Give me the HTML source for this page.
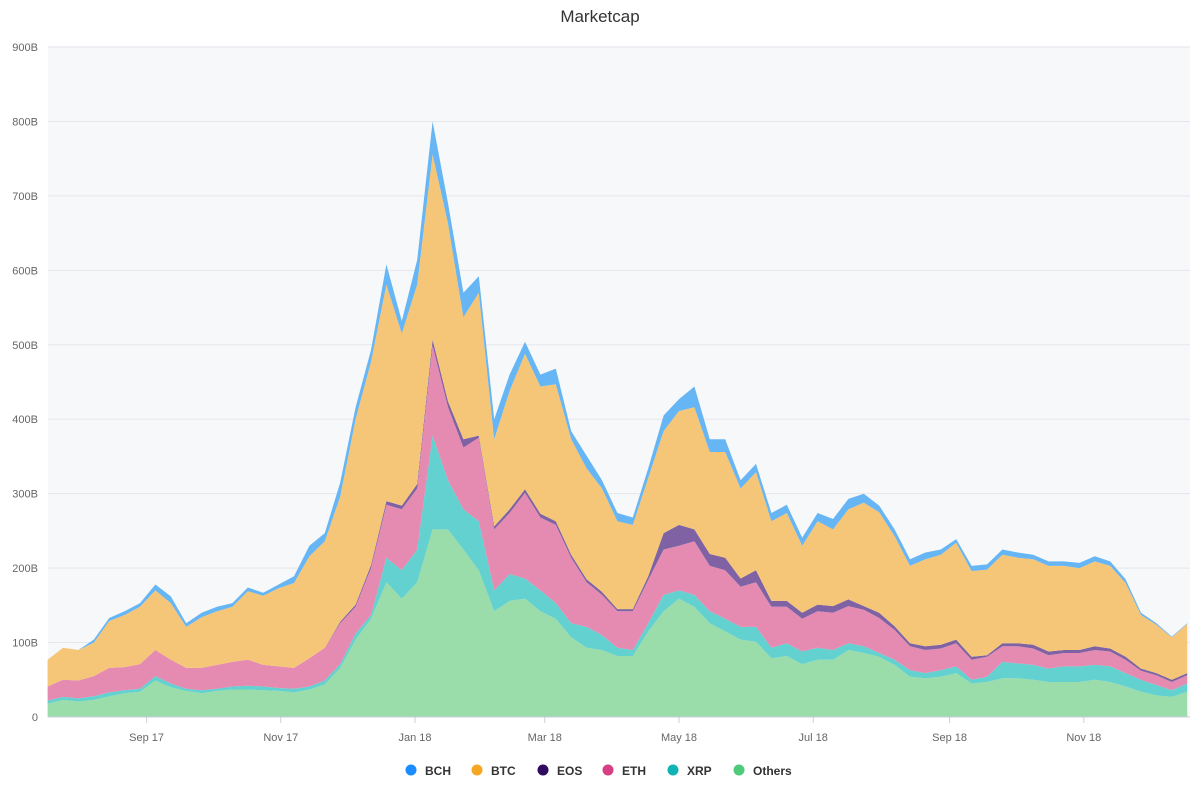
<!DOCTYPE html>
<html><head><meta charset="utf-8"><style>
body{margin:0;background:#fff;font-family:"Liberation Sans",sans-serif;}
svg{display:block}
</style></head><body>
<svg id="chart" width="1200" height="800">
<rect x="0" y="0" width="1200" height="800" fill="#fff"/>
<text x="600" y="22" text-anchor="middle" font-size="17" fill="#333">Marketcap</text>
<rect x="48" y="47" width="1142" height="670" fill="#f7f8fa"/>
<g id="grid"></g><g id="areas"></g><g id="axes"></g><g id="legend"></g>
</svg>
<script>
const others=[18,23,21,23,28,32,34,49,40,35,32,35,37,37,36,35,33,37,44,66,104,132,181,159,181,252,252,225,197,142,156,159,142,132,107,93,90,82,82,115,142,159,148,126,115,104,101,79,82,71,77,77,90,86,81,70,54,52,54,59,45,47,52,52,50,47,47,47,50,47,41,34,29,27,34];
const xrp=[4,4,4,5,5,4,4,6,5,3,4,3,4,5,5,4,5,4,5,5,8,5,33,38,44,126,66,54,66,28,36,27,28,21,19,28,20,11,8,11,22,11,16,16,17,17,20,14,17,17,16,13,9,9,5,7,9,7,9,9,5,7,22,20,20,18,21,21,20,21,18,16,14,9,11];
const eth=[19,23,24,27,33,31,33,35,32,28,30,32,33,35,29,29,28,38,44,55,36,63,71,82,82,121,98,83,112,82,82,115,98,105,88,60,54,49,52,58,61,60,72,61,65,54,60,55,49,44,49,50,50,49,47,40,32,31,29,31,27,27,21,23,22,18,18,18,20,20,18,12,13,11,11];
const eos=[0,0,0,0,0,0,0,0,0,0,0,0,0,0,0,0,0,0,0,2,3,4,5,5,6,8,8,11,3,4,5,5,5,5,4,4,4,3,3,5,22,28,16,16,17,11,16,8,8,8,9,9,9,5,7,5,4,5,5,5,4,2,4,4,5,5,4,4,5,4,4,3,3,3,3];
const btc=[36,43,41,45,63,70,77,80,76,55,68,72,74,92,93,105,114,137,143,168,249,273,291,231,268,249,239,164,192,117,159,182,171,184,155,149,139,118,113,132,137,153,164,137,142,121,132,107,118,90,112,103,121,139,135,121,104,117,121,130,115,115,119,115,115,115,113,110,114,111,99,72,65,57,66];
const bch=[0,0,0,4,4,5,5,8,9,5,6,6,5,5,4,5,9,14,11,19,16,16,27,17,33,44,27,33,22,27,22,16,16,21,11,17,11,11,10,13,21,16,28,17,17,11,11,11,11,11,11,14,14,12,9,9,9,9,7,5,7,7,7,7,6,6,6,7,7,6,5,3,2,1,1];
const yTicks=[0,100,200,300,400,500,600,700,800,900];
const xTickLabels=["Sep 17","Nov 17","Jan 18","Mar 18","May 18","Jul 18","Sep 18","Nov 18"];
const xTickDays=[-122,-61,0,59,120,181,243,304];
const startDay=-167, stepDays=7;
const series=[
 {name:"Others",vals:others,fill:"#9adcaa",key:"#4fc97a"},
 {name:"XRP",vals:xrp,fill:"#62d1cf",key:"#10b4b4"},
 {name:"ETH",vals:eth,fill:"#e58bb1",key:"#d63f83"},
 {name:"EOS",vals:eos,fill:"#7f62a3",key:"#2f0a5f"},
 {name:"BTC",vals:btc,fill:"#f5c677",key:"#f5a623"},
 {name:"BCH",vals:bch,fill:"#66b5f5",key:"#1a8cff"}];
const X=d=>415+2.2*d, Y=v=>717-v*670/900;
const NS="http://www.w3.org/2000/svg";
function mk(t,a,p){const e=document.createElementNS(NS,t);for(const k in a)e.setAttribute(k,a[k]);p.appendChild(e);return e;}
const grid=document.getElementById('grid'),axes=document.getElementById('axes'),areas=document.getElementById('areas'),legend=document.getElementById('legend');
yTicks.forEach(v=>{
 if(v>0){const l=mk('line',{x1:48,x2:1190,y1:Y(v),y2:Y(v),stroke:'#e6e6ec','stroke-width':1},grid);
 
 }
 const t=mk('text',{x:38,y:Y(v)+4,'text-anchor':'end','font-size':11,fill:'#666'},axes);
 t.textContent=v===0?'0':v+'B';
 
 
});
const n=others.length;
const base=new Array(n).fill(0);
series.forEach(s=>{
 const top=base.map((b,i)=>b+s.vals[i]);
 let d='';
 for(let i=0;i<n;i++){d+=(i?'L':'M')+X(startDay+i*stepDays).toFixed(1)+','+Y(top[i]).toFixed(1);}
 for(let i=n-1;i>=0;i--){d+='L'+X(startDay+i*stepDays).toFixed(1)+','+Y(base[i]).toFixed(1);}
 d+='Z';
 const p=mk('path',{d:d,fill:s.fill},areas);
 
 
 for(let i=0;i<n;i++)base[i]=top[i];
});
mk('line',{x1:48,x2:1190,y1:717,y2:717,stroke:'#ccd',"stroke-width":1},axes);
xTickLabels.forEach((lab,i)=>{
 const x=X(xTickDays[i]);
 mk('line',{x1:x,x2:x,y1:717,y2:723,stroke:'#ccd'},axes);
 const t=mk('text',{x:x,y:741,'text-anchor':'middle','font-size':11,fill:'#666'},axes);
 t.textContent=lab;
 
 
});
const lx=[411,477,543,608,673,739];
series.slice().reverse().forEach((s,i)=>{
 const g=mk('g',{},legend);
 
 
 mk('circle',{cx:lx[i],cy:770,r:5.5,fill:s.key},g);
 const t=mk('text',{x:lx[i]+14,y:775,'font-size':12,'font-weight':'bold',fill:'#333'},g);
 t.textContent=s.name;
});
</script>
</body></html>
